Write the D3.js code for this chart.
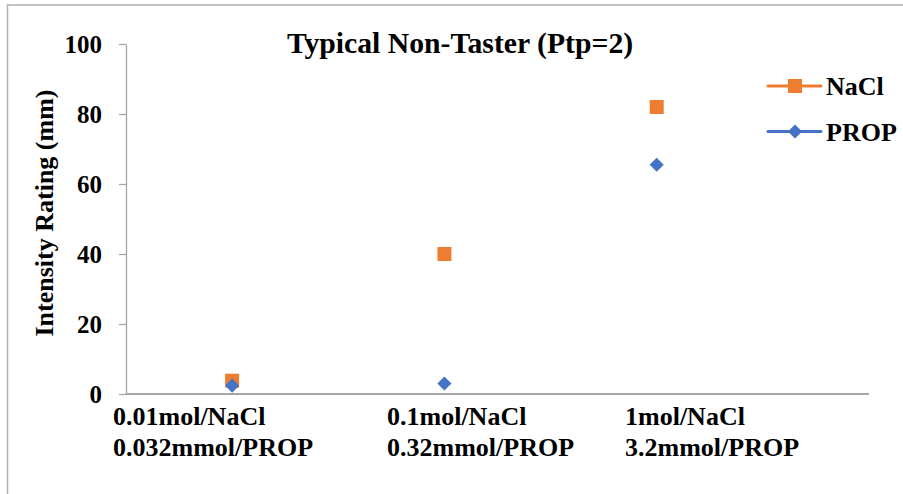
<!DOCTYPE html>
<html>
<head>
<meta charset="utf-8">
<script src="https://cdn.jsdelivr.net/npm/d3@7"></script>
<style>
  html, body { margin: 0; padding: 0; background: #fff; }
  svg { display: block; }
  text { font-family: "Liberation Serif", "Times New Roman", serif; font-weight: bold; fill: #000; }
</style>
</head>
<body>
<svg id="chart" width="903" height="494"></svg>
<script>
// Concentration steps (two-line labels) and mean intensity ratings
const categories = [
  ["0.01mol/NaCl", "0.032mmol/PROP"],
  ["0.1mol/NaCl", "0.32mmol/PROP"],
  ["1mol/NaCl", "3.2mmol/PROP"]
];
const naclValues = [3.8, 40, 82];
const propValues = [2.4, 3, 65.5];
const yTicks = [0, 20, 40, 60, 80, 100];
const seriesNames = ["NaCl", "PROP"];

// Layout
const W = 903, H = 494;
const plot = { left: 126, right: 869, top: 44, bottom: 394 };
const labelLeft = [113, 387, 625];   // left edge of each category label block
const colors = { NaCl: "#ED7D31", PROP: "#4472C4" };
const axisGrey = "#a6a6a6";

const svg = d3.select("#chart");

// Outer frame (top and left edges)
svg.append("path")
  .attr("d", `M7.5,${H} V5 H${W}`)
  .attr("fill", "none")
  .attr("stroke", "#b0b0b0")
  .attr("stroke-width", 1.5);

const x = d3.scaleLinear().domain([0.5, 4]).range([plot.left, plot.right]);
const y = d3.scaleLinear().domain([0, 100]).range([plot.bottom, plot.top]);

// Y axis
const yAxis = svg.append("g")
  .attr("transform", `translate(${plot.left},0)`)
  .call(d3.axisLeft(y).tickValues(yTicks).tickSize(7).tickPadding(17).tickSizeOuter(0));
yAxis.select(".domain").attr("stroke", axisGrey).attr("stroke-width", 1.3);
yAxis.selectAll(".tick line").attr("stroke", axisGrey).attr("stroke-width", 1.3);
yAxis.selectAll(".tick text")
  .style("font-family", '"Liberation Serif", "Times New Roman", serif')
  .style("font-weight", "bold")
  .style("font-size", "25px")
  .attr("fill", "#000");

// X axis baseline
svg.append("line")
  .attr("x1", x(0.5)).attr("x2", x(4))
  .attr("y1", y(0)).attr("y2", y(0))
  .attr("stroke", axisGrey)
  .attr("stroke-width", 2);

// Category labels
const catG = svg.append("g");
categories.forEach((lines, i) => {
  const t = catG.append("text")
    .attr("x", labelLeft[i])
    .attr("y", 425)
    .style("font-size", "26px");
  lines.forEach((ln, j) => {
    t.append("tspan")
      .attr("x", labelLeft[i])
      .attr("dy", j === 0 ? 0 : 31)
      .text(ln);
  });
});

// Titles
svg.append("text")
  .attr("x", 460)
  .attr("y", 53)
  .attr("text-anchor", "middle")
  .style("font-size", "29.7px")
  .text("Typical Non-Taster (Ptp=2)");

svg.append("text")
  .attr("transform", "translate(53,213) rotate(-90)")
  .attr("text-anchor", "middle")
  .style("font-size", "26px")
  .text("Intensity Rating (mm)");

// Markers
const squareSym = d3.symbol().type(d3.symbolSquare).size(196);
const diamondSym = d3.symbol().type(d3.symbolSquare).size(100);

svg.append("g").selectAll("path")
  .data(naclValues)
  .join("path")
  .attr("d", squareSym)
  .attr("transform", (d, i) => `translate(${x(i + 1)},${y(d)})`)
  .attr("fill", colors.NaCl);

svg.append("g").selectAll("path")
  .data(propValues)
  .join("path")
  .attr("d", diamondSym)
  .attr("transform", (d, i) => `translate(${x(i + 1)},${y(d)}) rotate(45)`)
  .attr("fill", colors.PROP);

// Legend
const legend = svg.append("g");
seriesNames.forEach((name, i) => {
  const ly = 86 + i * 45.5;
  const g = legend.append("g").attr("transform", `translate(0,${ly})`);
  g.append("line")
    .attr("x1", 768).attr("x2", 821)
    .attr("stroke", colors[name])
    .attr("stroke-width", 3)
    .attr("stroke-linecap", "round");
  g.append("path")
    .attr("d", name === "NaCl" ? squareSym : diamondSym)
    .attr("transform", `translate(795,0)${name === "PROP" ? " rotate(45)" : ""}`)
    .attr("fill", colors[name]);
  g.append("text")
    .attr("x", 826)
    .attr("y", 9)
    .style("font-size", "26px")
    .text(name);
});
</script>
</body>
</html>
